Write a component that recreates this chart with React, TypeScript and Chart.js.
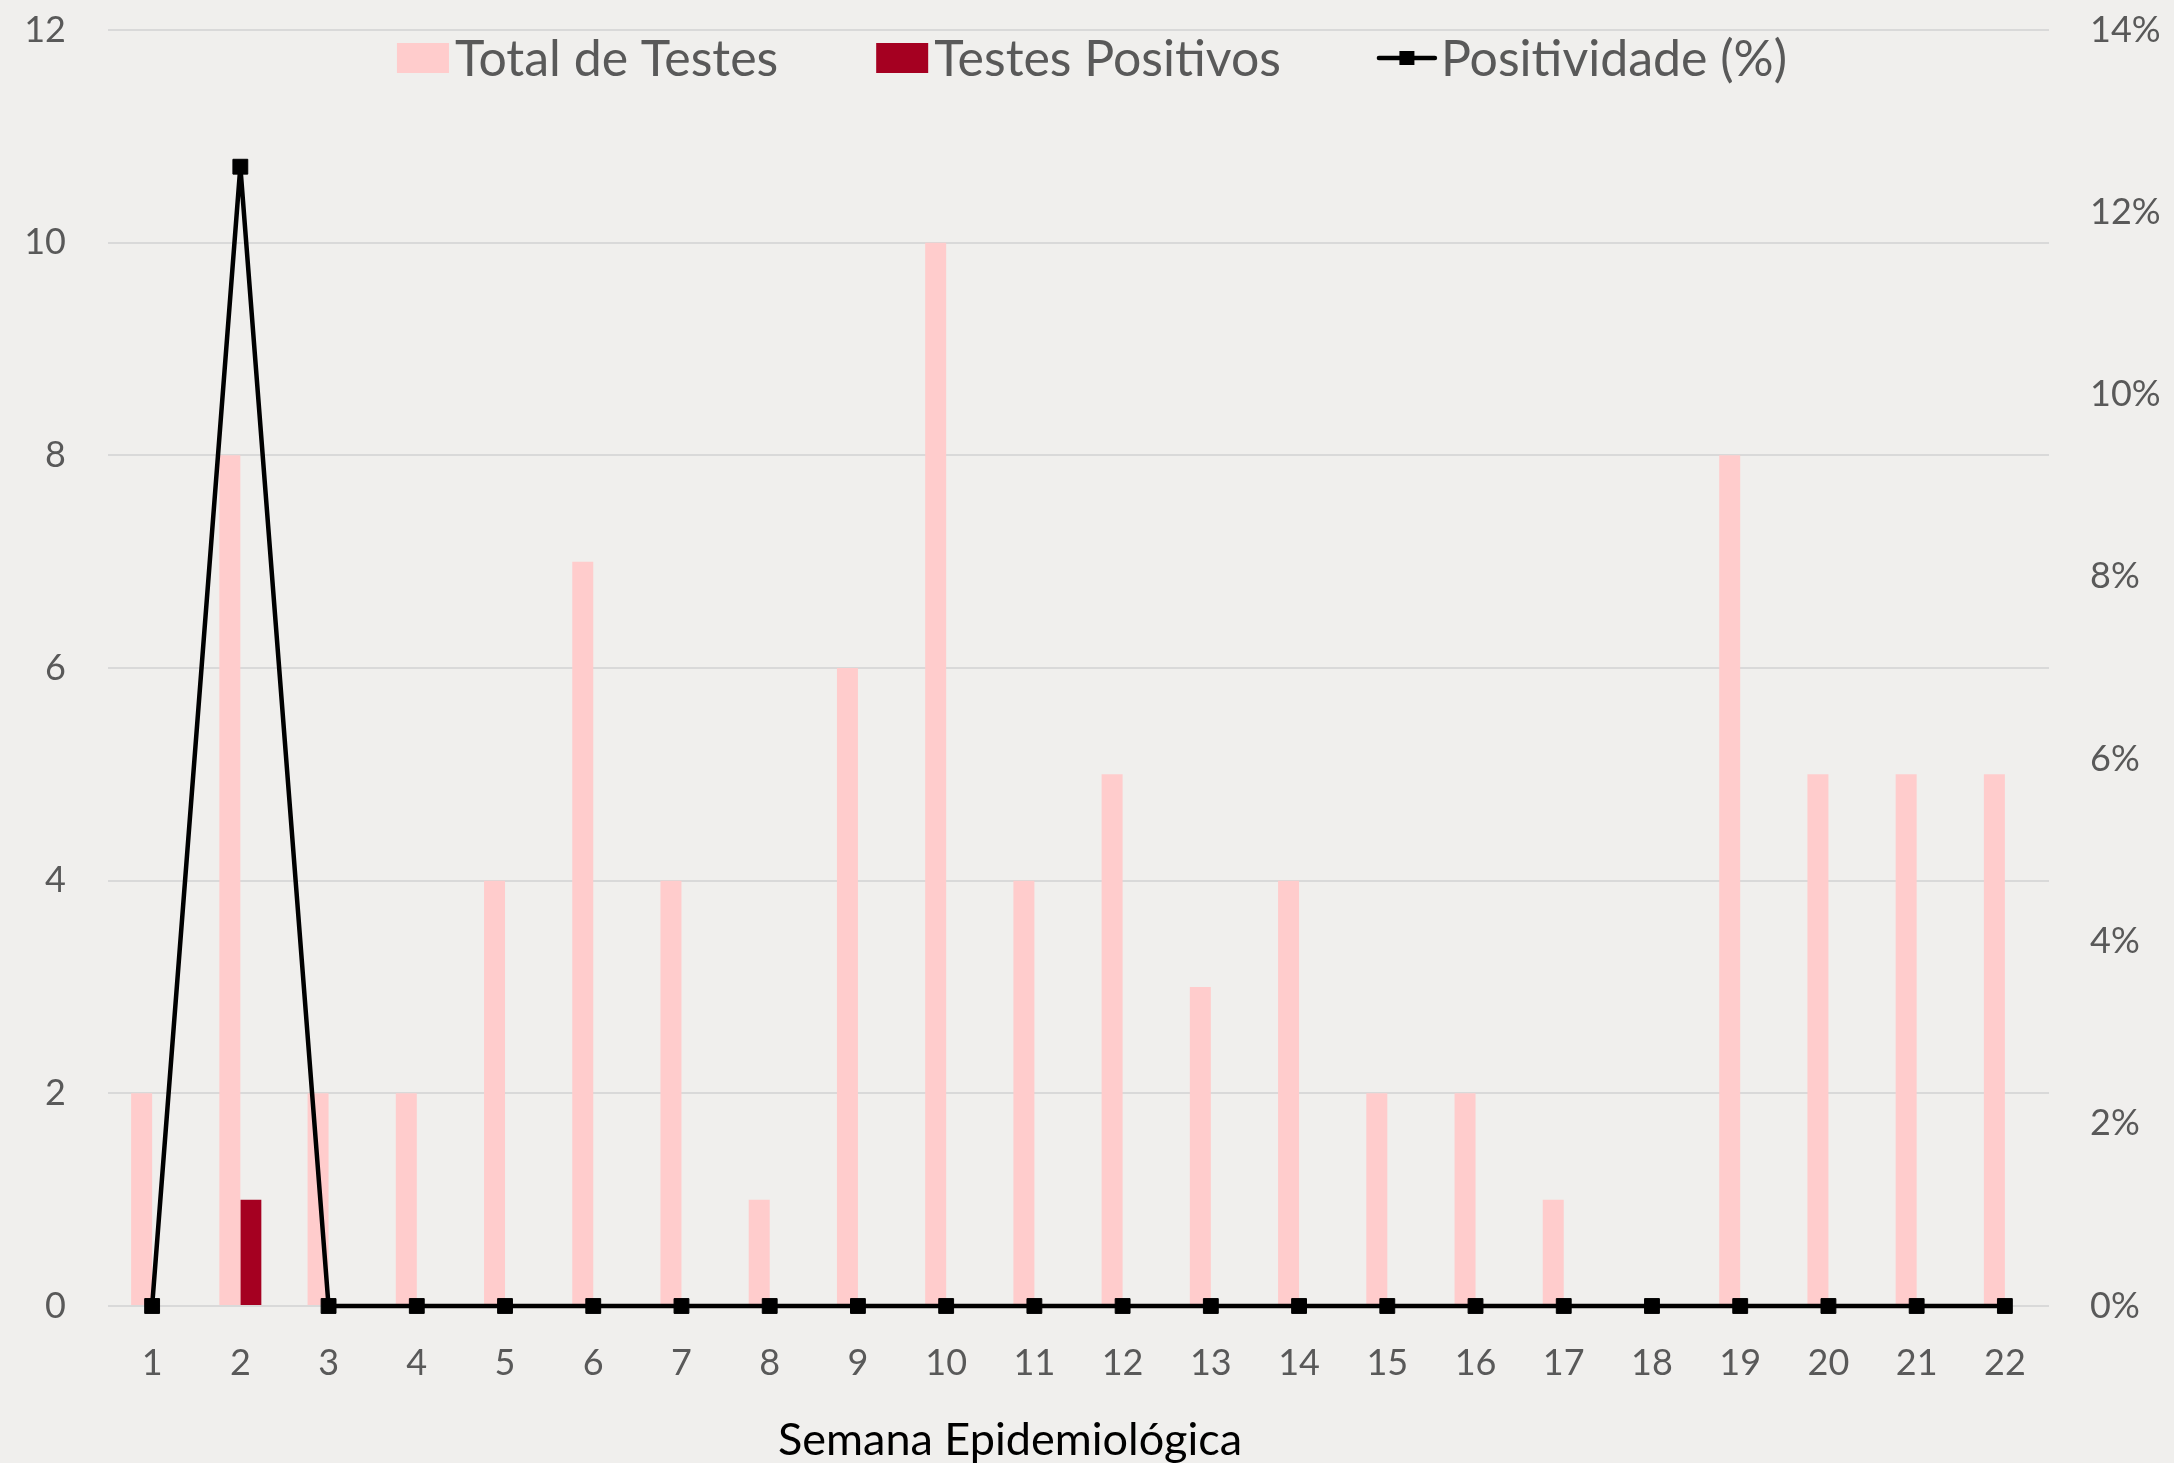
import React, { useEffect, useRef } from "react";
import { Chart, registerables } from "chart.js";

Chart.register(...registerables);

const weeks = ["1", "2", "3", "4", "5", "6", "7", "8", "9", "10", "11", "12", "13", "14", "15", "16", "17", "18", "19", "20", "21", "22"];
const totalTests = [2, 8, 2, 2, 4, 7, 4, 1, 6, 10, 4, 5, 3, 4, 2, 2, 1, 0, 8, 5, 5, 5];
const positiveTests = [0, 1, 0, 0, 0, 0, 0, 0, 0, 0, 0, 0, 0, 0, 0, 0, 0, 0, 0, 0, 0, 0];
const positivity = [0, 0.125, 0, 0, 0, 0, 0, 0, 0, 0, 0, 0, 0, 0, 0, 0, 0, 0, 0, 0, 0, 0];

const seriesNames = ["Total de Testes", "Testes Positivos", "Positividade (%)"];
const xTitle = "Semana Epidemiológica";

const FONT = "Lato";
const TEXT = "#595959";
const BG = "#f0efed";
const PINK = "#ffcccc";
const RED = "#a50021";
const GRID = "#d9d9d9";

const legendPlugin = {
  id: "customLegend",
  afterDraw(chart: any) {
    const ctx = chart.ctx;
    ctx.save();
    // legend
    ctx.font = `50px ${FONT}`;
    ctx.textBaseline = "middle";
    const items = [
      { type: "box", color: PINK, text: seriesNames[0] },
      { type: "box", color: RED, text: seriesNames[1] },
      { type: "line", color: "#000", text: seriesNames[2] },
    ];
    const boxW = 52;
    const boxH = 30;
    const lineW = 56;
    const gapText = 6;
    const gapItem = 98;
    const widths = items.map((it) => (it.type === "box" ? boxW : lineW) + gapText + ctx.measureText(it.text).width);
    const total = widths.reduce((a, b) => a + b, 0) + gapItem * (items.length - 1);
    let x = chart.width / 2 + 5 - total / 2;
    const y = 58;
    items.forEach((it) => {
      if (it.type === "box") {
        ctx.fillStyle = it.color;
        ctx.fillRect(x, y - boxH / 2, boxW, boxH);
        x += boxW + gapText;
      } else {
        ctx.strokeStyle = it.color;
        ctx.lineWidth = 4.5;
        ctx.lineCap = "round";
        ctx.beginPath();
        ctx.moveTo(x, y);
        ctx.lineTo(x + lineW, y);
        ctx.stroke();
        ctx.fillStyle = it.color;
        ctx.fillRect(x + lineW / 2 - 7.5, y - 7, 15, 14);
        x += lineW + gapText;
      }
      ctx.fillStyle = TEXT;
      ctx.textAlign = "left";
      ctx.fillText(it.text, x, y + 2);
      x += ctx.measureText(it.text).width + gapItem;
    });
    // x-axis title
    ctx.font = `45px ${FONT}`;
    ctx.fillStyle = "#000";
    ctx.textAlign = "center";
    ctx.textBaseline = "alphabetic";
    ctx.fillText(xTitle, chart.width * 0.4646, 1455);
    ctx.restore();
  },
};

export default function App() {
  const ref = useRef<HTMLCanvasElement>(null);

  useEffect(() => {
    document.body.style.margin = "0";
    document.body.style.background = BG;
    const chart = new Chart(ref.current!, {
      type: "bar",
      data: {
        labels: weeks,
        datasets: [
          {
            type: "line",
            label: seriesNames[2],
            data: positivity,
            yAxisID: "y1",
            borderColor: "#000",
            borderWidth: 4.5,
            backgroundColor: "#000",
            pointStyle: "rect",
            pointRadius: 10.5,
            pointBorderWidth: 1,
            pointBorderColor: "#000",
            pointBackgroundColor: "#000",
            tension: 0,
            clip: false,
            order: 0,
          } as any,
          {
            type: "bar",
            label: seriesNames[0],
            data: totalTests,
            yAxisID: "y",
            backgroundColor: PINK,
            categoryPercentage: 0.476,
            barPercentage: 1.0,
            order: 1,
          },
          {
            type: "bar",
            label: seriesNames[1],
            data: positiveTests,
            yAxisID: "y",
            backgroundColor: RED,
            categoryPercentage: 0.476,
            barPercentage: 1.0,
            order: 2,
          },
        ],
      },
      options: {
        animation: false,
        responsive: true,
        maintainAspectRatio: false,
        layout: { padding: { left: 24, right: 10, top: 30, bottom: 0 } },
        plugins: {
          legend: { display: false },
          tooltip: { enabled: false },
        },
        scales: {
          x: {
            grid: { display: false, drawTicks: false },
            border: { display: false },
            ticks: { color: TEXT, font: { family: FONT, size: 36 }, padding: 36 },
            afterFit: (s: any) => {
              s.height = 157;
              s.paddingLeft = 0;
              s.paddingRight = 0;
            },
          },
          y: {
            position: "left",
            min: 0,
            max: 12,
            ticks: { stepSize: 2, color: TEXT, font: { family: FONT, size: 36 }, padding: 42 },
            grid: { color: GRID, lineWidth: 2, drawTicks: false },
            border: { display: false },
            afterFit: (s: any) => {
              s.width = 84;
              s.paddingTop = 0;
              s.paddingBottom = 0;
            },
          },
          y1: {
            position: "right",
            min: 0,
            max: 0.14,
            ticks: {
              stepSize: 0.02,
              color: TEXT,
              font: { family: FONT, size: 36 },
              padding: 41,
              callback: (v: any) => `${Math.round(Number(v) * 100)}%`,
            },
            grid: { display: false, drawTicks: false },
            border: { display: false },
            afterFit: (s: any) => {
              s.width = 115;
              s.paddingTop = 0;
              s.paddingBottom = 0;
            },
          },
        },
      },
      plugins: [legendPlugin],
    });
    return () => chart.destroy();
  }, []);

  return (
    <div style={{ width: 2174, height: 1463, background: BG, position: "relative" }}>
      <canvas ref={ref} />
    </div>
  );
}
